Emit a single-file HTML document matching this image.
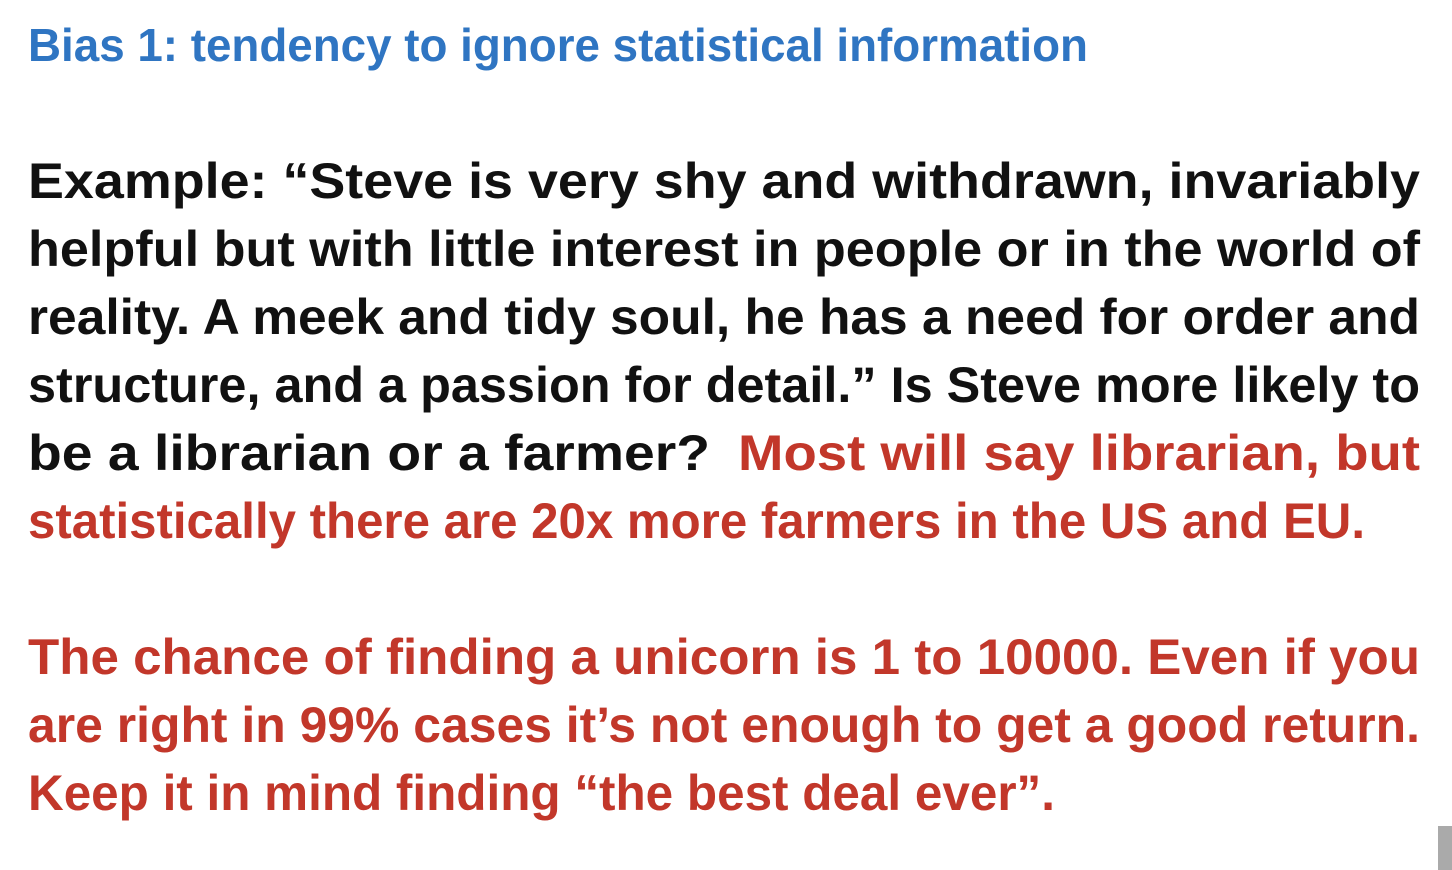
<!DOCTYPE html>
<html><head><meta charset="utf-8"><style>
html,body{margin:0;padding:0;background:#fff;width:1452px;height:870px;overflow:hidden}
svg{display:block}
text{font-family:"Liberation Sans",sans-serif;font-weight:bold}
.t{fill:#2f75c2;font-size:46px}
.b{fill:#111;font-size:50px}
.r{fill:#c2372a;font-size:50px}
</style></head><body>
<svg width="1452" height="870">
<text class="t" x="28" y="61" textLength="1060" lengthAdjust="spacingAndGlyphs">Bias 1: tendency to ignore statistical information</text>
<g>
<text class="b" x="28" y="198" textLength="1392" lengthAdjust="spacingAndGlyphs">Example: “Steve is very shy and withdrawn, invariably</text>
<text class="b" x="28" y="266" textLength="1392" lengthAdjust="spacingAndGlyphs">helpful but with little interest in people or in the world of</text>
<text class="b" x="28" y="334" textLength="1392" lengthAdjust="spacingAndGlyphs">reality. A meek and tidy soul, he has a need for order and</text>
<text class="b" x="28" y="402" textLength="1392" lengthAdjust="spacingAndGlyphs">structure, and a passion for detail.” Is Steve more likely to</text>
<text class="b" x="28" y="470" textLength="682" lengthAdjust="spacingAndGlyphs">be a librarian or a farmer?</text>
<text class="r" x="738" y="470" textLength="682" lengthAdjust="spacingAndGlyphs">Most will say librarian, but</text>
<text class="r" x="28" y="538" textLength="1337" lengthAdjust="spacingAndGlyphs">statistically there are 20x more farmers in the US and EU.</text>
</g>
<g>
<text class="r" x="28" y="674" textLength="1392" lengthAdjust="spacingAndGlyphs">The chance of finding a unicorn is 1 to 10000. Even if you</text>
<text class="r" x="28" y="742" textLength="1392" lengthAdjust="spacingAndGlyphs">are right in 99% cases it’s not enough to get a good return.</text>
<text class="r" x="28" y="810" textLength="1027" lengthAdjust="spacingAndGlyphs">Keep it in mind finding “the best deal ever”.</text>
</g>
<rect x="1438" y="826" width="14" height="44" fill="#aaaaaa"/>
</svg>
</body></html>
